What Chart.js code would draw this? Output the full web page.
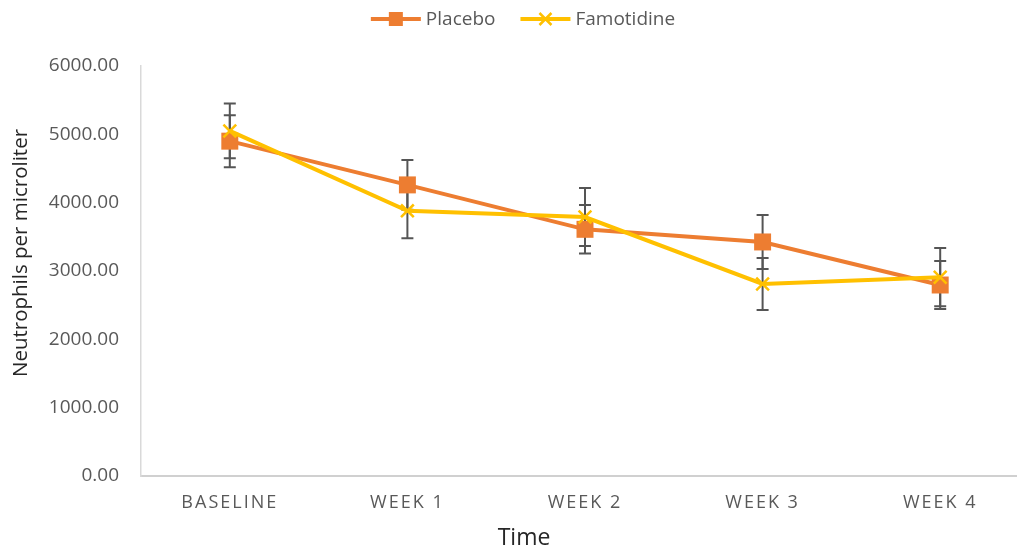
<!DOCTYPE html>
<html>
<head>
<meta charset="utf-8">
<script src="https://cdn.jsdelivr.net/npm/chart.js@4.4.1/dist/chart.umd.min.js"></script>
<style>
  html, body { margin: 0; padding: 0; overflow: hidden; background: #fff; }
</style>
</head>
<body>
<canvas id="chart" width="1041" height="552"></canvas>
<script>
// data
const timeLabels = ['BASELINE', 'WEEK 1', 'WEEK 2', 'WEEK 3', 'WEEK 4'];
const placeboValues = [4900, 4260, 3610, 3425, 2795];
const placeboErrors = [380, 365, 355, 395, 350];
const famotidineValues = [5050, 3880, 3790, 2810, 2910];
const famotidineErrors = [400, 400, 425, 380, 425];
const yMin = 0, yMax = 6000, yStep = 1000;

const placeboColor = '#ED7D31';
const famotidineColor = '#FFC000';
const textGray = '#595959';
const font = "'Open Sans', sans-serif";

// error bars drawn under the markers
const errorBars = {
    id: 'errorBars',
    beforeDatasetsDraw(chart) {
        const ctx = chart.ctx;
        const x = chart.scales.x, y = chart.scales.y;
        const errs = [placeboErrors, famotidineErrors];
        ctx.save();
        ctx.strokeStyle = '#555555';
        ctx.lineWidth = 2;
        chart.data.datasets.forEach((ds, i) => {
            ds.data.forEach((v, j) => {
                const px = x.getPixelForValue(j);
                const top = y.getPixelForValue(v + errs[i][j]);
                const bot = y.getPixelForValue(v - errs[i][j]);
                ctx.beginPath();
                ctx.moveTo(px, top); ctx.lineTo(px, bot);
                ctx.moveTo(px - 6, top); ctx.lineTo(px + 6, top);
                ctx.moveTo(px - 6, bot); ctx.lineTo(px + 6, bot);
                ctx.stroke();
            });
        });
        ctx.restore();
    }
};

// spaced-out category labels like the original
const spacedLabels = {
    id: 'spacedLabels',
    afterUpdate(chart) {
        const s = chart.scales.x;
        if (s && !s._spaced) {
            const orig = s.drawLabels.bind(s);
            s.drawLabels = function (area) {
                this.ctx.save();
                this.ctx.letterSpacing = '2px';
                orig(area);
                this.ctx.restore();
            };
            s._spaced = true;
        }
    }
};

// legend (line + marker) and axis titles
const decorations = {
    id: 'decorations',
    afterDraw(chart) {
        const ctx = chart.ctx;
        ctx.save();
        ctx.font = '19px ' + font;
        ctx.textBaseline = 'middle';
        const items = chart.data.datasets.map(ds => ({ ds, w: ctx.measureText(ds.label).width }));
        const lineLen = 50, gap = 5, between = 25;
        const total = items.reduce((a, it) => a + lineLen + gap + it.w, 0) + between * (items.length - 1);
        let lx = 523 - total / 2;
        const ly = 19;
        items.forEach(it => {
            const ds = it.ds;
            ctx.strokeStyle = ds.borderColor;
            ctx.lineWidth = 4;
            ctx.beginPath();
            ctx.moveTo(lx, ly); ctx.lineTo(lx + lineLen, ly);
            ctx.stroke();
            const cx = lx + lineLen / 2;
            if (ds.pointStyle === 'rect') {
                ctx.fillStyle = ds.borderColor;
                ctx.fillRect(cx - 7, ly - 7, 14, 14);
            } else {
                ctx.lineWidth = 2.5;
                ctx.beginPath();
                ctx.moveTo(cx - 6, ly - 6); ctx.lineTo(cx + 6, ly + 6);
                ctx.moveTo(cx + 6, ly - 6); ctx.lineTo(cx - 6, ly + 6);
                ctx.stroke();
            }
            ctx.fillStyle = textGray;
            ctx.textAlign = 'left';
            ctx.fillText(ds.label, lx + lineLen + gap, ly + 1);
            lx += lineLen + gap + it.w + between;
        });

        ctx.fillStyle = '#262626';
        ctx.textAlign = 'center';
        ctx.font = '23px ' + font;
        ctx.fillText('Time', 524, 538);
        ctx.translate(21, 253);
        ctx.rotate(-Math.PI / 2);
        ctx.font = '20.5px ' + font;
        ctx.fillText('Neutrophils per microliter', 0, 0);
        ctx.restore();
    }
};

new Chart(document.getElementById('chart'), {
    type: 'line',
    data: {
        labels: timeLabels,
        datasets: [{
            label: 'Placebo',
            data: placeboValues,
            borderColor: placeboColor,
            backgroundColor: placeboColor,
            borderWidth: 4,
            pointStyle: 'rect',
            pointRadius: 12,
            pointBorderWidth: 0,
            pointBackgroundColor: placeboColor,
            tension: 0,
            order: 1
        }, {
            label: 'Famotidine',
            data: famotidineValues,
            borderColor: famotidineColor,
            backgroundColor: famotidineColor,
            borderWidth: 4,
            pointStyle: 'crossRot',
            pointRadius: 9,
            pointBorderWidth: 2.5,
            pointBorderColor: famotidineColor,
            tension: 0,
            order: 0
        }]
    },
    options: {
        responsive: false,
        animation: false,
        layout: { padding: { top: 66, right: 2, left: 0, bottom: 0 } },
        plugins: { legend: { display: false }, tooltip: { enabled: false } },
        scales: {
            x: {
                offset: true,
                grid: { display: false, drawTicks: false },
                border: { color: '#d0d0d0', width: 2 },
                ticks: { color: textGray, font: { family: font, size: 18 }, padding: 16, maxRotation: 0 },
                afterFit(s) { s.height = 76; }
            },
            y: {
                min: yMin,
                max: yMax,
                grid: { display: false, drawTicks: false },
                border: { color: '#d9d9d9', width: 1.5 },
                ticks: {
                    stepSize: yStep,
                    color: textGray,
                    font: { family: font, size: 19 },
                    padding: 22,
                    callback: v => v.toFixed(2)
                },
                afterFit(s) { s.width = 141; }
            }
        }
    },
    plugins: [errorBars, spacedLabels, decorations]
});
</script>
</body>
</html>
